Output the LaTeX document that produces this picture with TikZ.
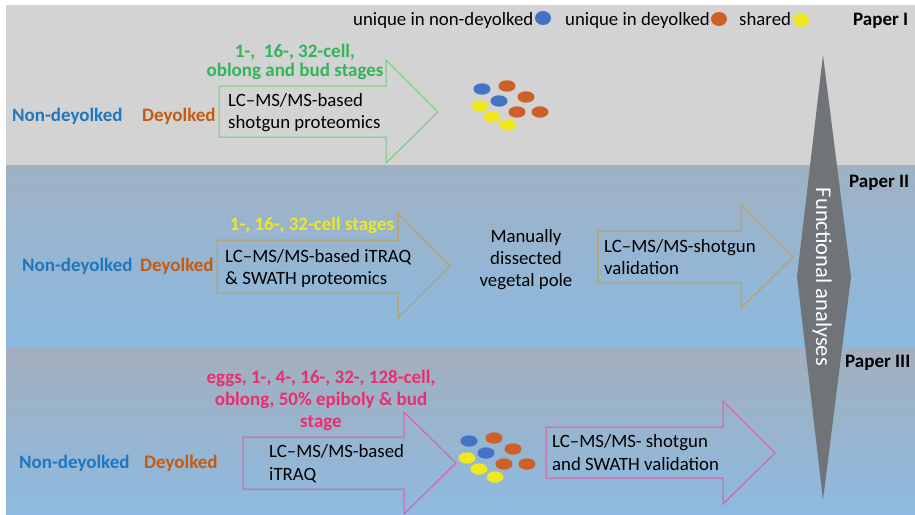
\documentclass[tikz,border=0pt]{standalone}
\usepackage{fontspec}
\setmainfont{Carlito}
\definecolor{bandA}{RGB}{211,211,211}
\definecolor{bandBt}{RGB}{160,177,196}
\definecolor{bandBb}{RGB}{139,186,224}
\definecolor{bandCt}{RGB}{163,175,189}
\definecolor{bandCb}{RGB}{141,186,224}
\definecolor{txtblue}{RGB}{31,119,190}
\definecolor{txtorange}{RGB}{197,90,17}
\definecolor{txtgreen}{RGB}{50,180,90}
\definecolor{txtyellow}{RGB}{240,232,30}
\definecolor{txtpink}{RGB}{235,45,110}
\definecolor{dotblue}{RGB}{68,114,196}
\definecolor{dotorange}{RGB}{205,95,40}
\definecolor{dotyellow}{RGB}{240,232,30}
\definecolor{lineG}{RGB}{120,200,120}
\definecolor{lineY}{RGB}{190,160,80}
\definecolor{lineP}{RGB}{222,90,160}
\definecolor{bigarrow}{RGB}{112,116,120}
\begin{document}
\begin{tikzpicture}[x=1pt,y=-1pt,
  txt/.style={font=\fontsize{18.8}{22}\selectfont, inner sep=0pt, anchor=base west},
  ctxt/.style={font=\fontsize{18.8}{22}\selectfont, inner sep=0pt, anchor=base},
  btxt/.style={font=\bfseries\fontsize{19}{22}\selectfont, inner sep=0pt, anchor=base west},
  cbtxt/.style={font=\bfseries\fontsize{19}{22}\selectfont, inner sep=0pt, anchor=base},
  arrowG/.style={draw=lineG, line width=1pt},
  arrowY/.style={draw=lineY, line width=1pt},
  arrowP/.style={draw=lineP, line width=1pt},
  dotB/.style={fill=dotblue},
  dotO/.style={fill=dotorange},
  dotY/.style={fill=dotyellow}]
\useasboundingbox (0,0) rectangle (915,514);
\fill[white] (0,0) rectangle (915,514);
% bands
\fill[bandA] (6,5) rectangle (915,165);
\shade[top color=bandBt, bottom color=bandBb] (6,165) rectangle (915,347);
\shade[top color=bandCt, bottom color=bandCb] (6,347) rectangle (915,514);

% big gray double arrow
\fill[bigarrow] (823,55) -- (851,277) -- (823,500) -- (797,277) -- cycle;
\node[rotate=-90, text=white, font=\fontsize{22.5}{26}\selectfont, inner sep=0pt] (func) at (822,277) {Functional analyses};

% legend
\node[txt] (leg1) at (353,25) {unique in non-deyolked};
\fill[dotB] (543,18) ellipse (8 and 7);
\node[txt] (leg2) at (565,25) {unique in deyolked};
\fill[dotO] (719,19) ellipse (8 and 7);
\node[txt] (leg3) at (739,25) {shared};
\fill[dotY] (801,20) ellipse (8 and 7);

% paper labels
\node[btxt] (p1) at (853,25) {Paper I};
\node[btxt] (p2) at (849,187) {Paper II};
\node[btxt] (p3) at (845,367) {Paper III};

% ---------- Band 1 ----------
\node[btxt, text=txtblue] (nd1) at (12,121) {Non-deyolked};
\node[btxt, text=txtorange] (d1) at (142,121) {Deyolked};
\draw[arrowG] (219,86) -- (386,86) -- (386,60) -- (438,112) -- (386,163) -- (386,137) -- (219,137) -- cycle;
\node[cbtxt, text=txtgreen] (t1a) at (295,57) {1-,\ \ 16-, 32-cell,};
\node[cbtxt, text=txtgreen] (t1b) at (295,76) {oblong and bud stages};
\node[txt] (a1a) at (228,106) {LC–MS/MS-based};
\node[txt] (a1b) at (228,128) {shotgun proteomics};
\begin{scope}
\fill[dotB] (482,89) ellipse (8.5 and 5.7);
\fill[dotB] (499,101) ellipse (8.5 and 5.7);
\fill[dotO] (507,86) ellipse (8.5 and 5.7);
\fill[dotO] (526,97) ellipse (8.5 and 5.7);
\fill[dotO] (517,112) ellipse (8.5 and 5.7);
\fill[dotO] (540,112) ellipse (8.5 and 5.7);
\fill[dotY] (480,106) ellipse (8.5 and 5.7);
\fill[dotY] (492,117) ellipse (8.5 and 5.7);
\fill[dotY] (508,125) ellipse (8.5 and 5.7);
\end{scope}

% ---------- Band 2 ----------
\node[btxt, text=txtblue] (nd2) at (22,271) {Non-deyolked};
\node[btxt, text=txtorange] (d2) at (140,271) {Deyolked};
\draw[arrowY] (217,240) -- (398,240) -- (398,213) -- (450,266) -- (398,318) -- (398,293) -- (217,293) -- cycle;
\node[cbtxt, text=txtyellow] (t2) at (312,230) {1-, 16-, 32-cell stages};
\node[txt] (a2a) at (225,262) {LC–MS/MS-based iTRAQ};
\node[txt] (a2b) at (225,284) {\& SWATH proteomics};
\node[ctxt] (m1) at (526,242) {Manually};
\node[ctxt] (m2) at (526,264) {dissected};
\node[ctxt] (m3) at (526,286) {vegetal pole};
\draw[arrowY] (598,231) -- (741,231) -- (741,205) -- (793,257) -- (741,308) -- (741,283) -- (598,283) -- cycle;
\node[txt] (v2a) at (604,252) {LC–MS/MS-shotgun};
\node[txt] (v2b) at (604,274) {validation};

% ---------- Band 3 ----------
\node[btxt, text=txtblue] (nd3) at (19,468) {Non-deyolked};
\node[btxt, text=txtorange] (d3) at (144,468) {Deyolked};
\node[cbtxt, text=txtpink] (t3a) at (321,383) {eggs, 1-, 4-, 16-, 32-, 128-cell,};
\node[cbtxt, text=txtpink] (t3b) at (321,405) {oblong, 50\% epiboly \& bud};
\node[cbtxt, text=txtpink] (t3c) at (321,427) {stage};
\draw[arrowP] (243,437) -- (404,437) -- (404,412) -- (456,463) -- (404,514) -- (404,489) -- (243,489) -- cycle;
\node[txt] (a3a) at (269,457) {LC–MS/MS-based};
\node[txt] (a3b) at (269,480) {iTRAQ};
\begin{scope}[shift={(-13,352)}]
\fill[dotB] (482,89) ellipse (8.5 and 5.7);
\fill[dotB] (499,101) ellipse (8.5 and 5.7);
\fill[dotO] (507,86) ellipse (8.5 and 5.7);
\fill[dotO] (526,97) ellipse (8.5 and 5.7);
\fill[dotO] (517,112) ellipse (8.5 and 5.7);
\fill[dotO] (540,112) ellipse (8.5 and 5.7);
\fill[dotY] (480,106) ellipse (8.5 and 5.7);
\fill[dotY] (492,117) ellipse (8.5 and 5.7);
\fill[dotY] (508,125) ellipse (8.5 and 5.7);
\end{scope}
\draw[arrowP] (546,427) -- (723,427) -- (723,401) -- (775,453) -- (723,504) -- (723,478) -- (546,478) -- cycle;
\node[txt] (v3a) at (552,447) {LC–MS/MS- shotgun};
\node[txt] (v3b) at (552,470) {and SWATH validation};
\end{tikzpicture}
\end{document}
